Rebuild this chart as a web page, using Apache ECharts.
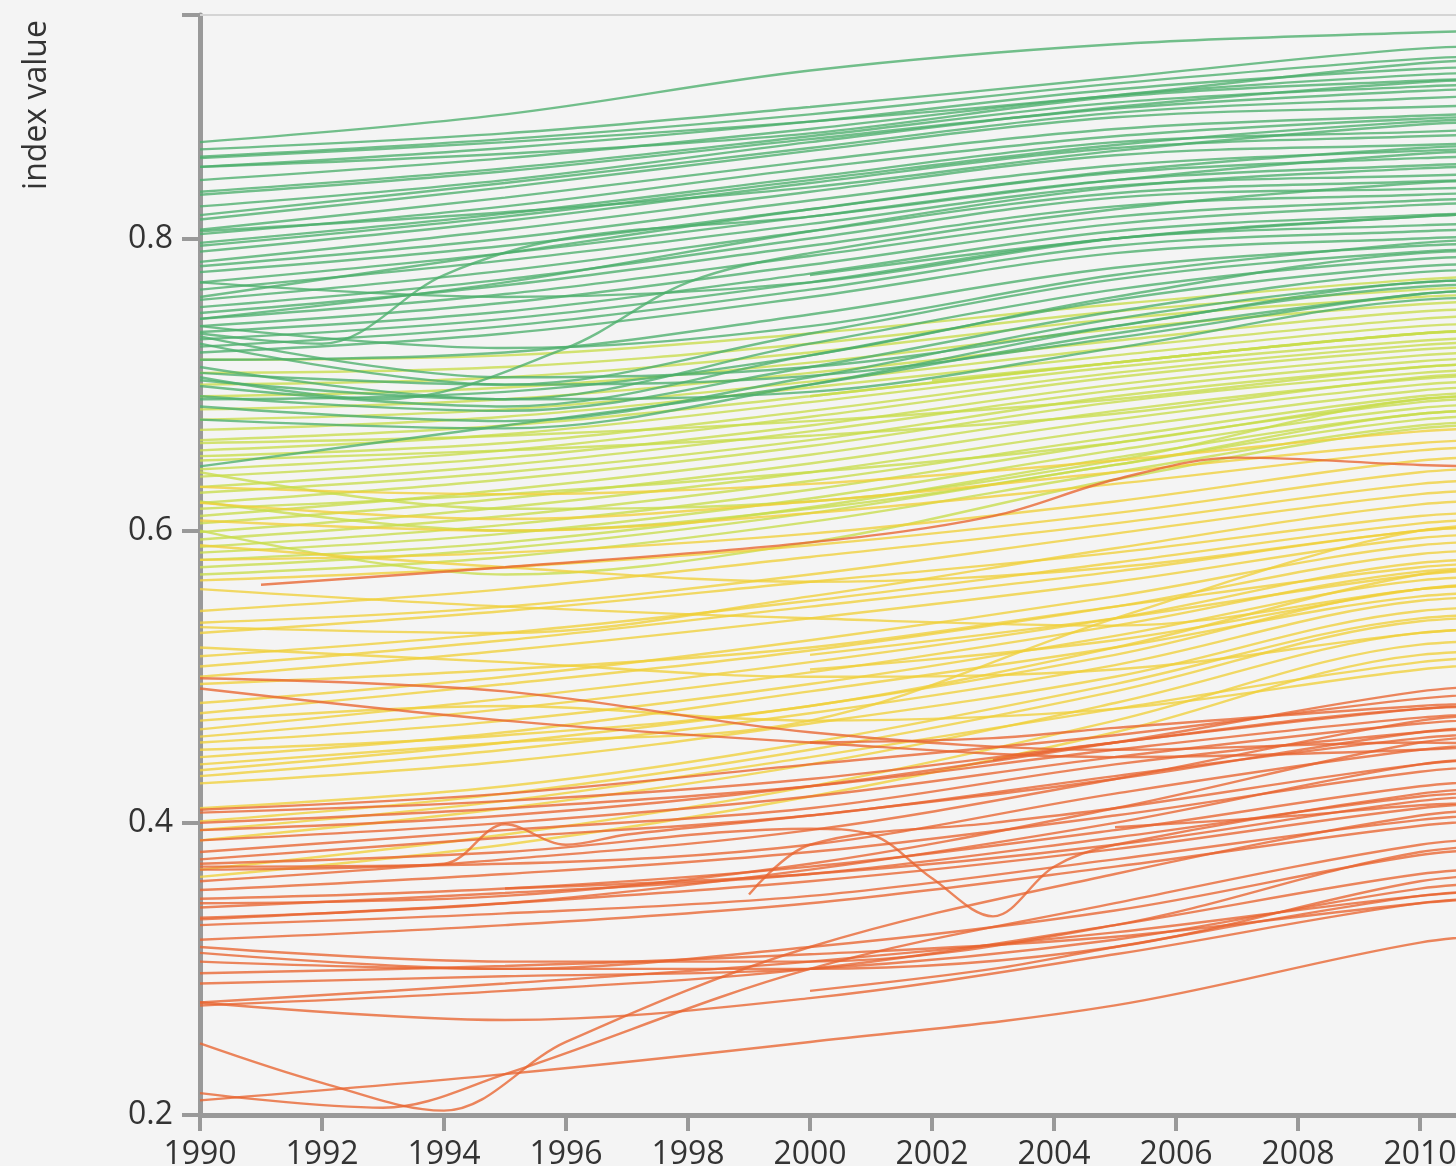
<!DOCTYPE html>
<html>
<head>
<meta charset="utf-8">
<script src="https://cdn.jsdelivr.net/npm/echarts@6/dist/echarts.min.js"></script>
<style>
html,body{margin:0;padding:0;background:#f4f4f4;}
#chart{width:1456px;height:1166px;}
</style>
</head>
<body>
<div id="chart"></div>
<script>
// Sample years for the regular series
var YEARS = [1990, 1995, 2000, 2005, 2010, 2012];

// Very high development (green)
var greenLines = [
  [0.866,0.885,0.915,0.933,0.941,0.943],
  [0.861,0.872,0.890,0.910,0.930,0.932],
  [0.856,0.868,0.885,0.906,0.923,0.925],
  [0.849,0.862,0.880,0.902,0.916,0.918],
  [0.849,0.858,0.872,0.897,0.908,0.910],
  [0.832,0.848,0.870,0.893,0.904,0.906],
  [0.830,0.846,0.868,0.889,0.901,0.903],
  [0.816,0.838,0.862,0.886,0.896,0.899],
  [0.813,0.835,0.860,0.883,0.890,0.892],
  [0.806,0.828,0.853,0.875,0.884,0.887],
  [0.803,0.822,0.848,0.870,0.882,0.884],
  [0.797,0.817,0.842,0.866,0.873,0.876],
  [0.791,0.812,0.838,0.862,0.870,0.872],
  [0.784,0.806,0.832,0.857,0.864,0.866],
  [0.781,0.800,0.826,0.850,0.860,0.862],
  [0.777,0.795,0.820,0.845,0.855,0.857],
  [0.770,0.790,0.815,0.840,0.850,0.852],
  [0.765,0.785,0.810,0.836,0.843,0.845],
  [0.758,0.778,0.805,0.831,0.839,0.841],
  [0.753,0.772,0.800,0.828,0.834,0.836],
  [0.749,0.768,0.795,0.822,0.830,0.832],
  [0.745,0.762,0.788,0.815,0.826,0.828],
  [0.740,0.756,0.782,0.810,0.823,0.825],
  [0.736,0.750,0.776,0.805,0.816,0.818],
  [0.731,0.745,0.770,0.800,0.809,0.811],
  [0.726,0.740,0.765,0.795,0.805,0.807],
  [0.722,0.735,0.760,0.790,0.800,0.802],
  [0.717,0.722,0.748,0.780,0.795,0.797],
  [0.708,0.700,0.735,0.772,0.791,0.793],
  [0.703,0.690,0.728,0.765,0.786,0.788],
  [0.699,0.685,0.720,0.758,0.781,0.783],
  [0.692,0.682,0.712,0.750,0.777,0.779],
  [0.685,0.675,0.705,0.745,0.770,0.772],
  [0.676,0.670,0.700,0.740,0.767,0.769],
  [0.840,0.855,0.875,0.898,0.912,0.914],
  [0.822,0.840,0.866,0.890,0.907,0.909],
  [0.795,0.815,0.840,0.864,0.880,0.882],
  [0.760,0.790,0.820,0.846,0.862,0.864],
  [0.745,0.770,0.805,0.835,0.848,0.850],
  [0.740,0.725,0.740,0.775,0.797,0.800],
  [0.733,0.705,0.712,0.740,0.770,0.772],
  [0.728,0.700,0.706,0.732,0.762,0.765],
  [0.712,0.690,0.695,0.725,0.758,0.760],
  [0.690,0.695,0.720,0.760,0.790,0.792],
  [0.644,0.672,0.700,0.735,0.762,0.765],
  [0.770,0.760,0.770,0.800,0.815,0.818],
  [0.805,0.818,0.835,0.860,0.878,0.880],
  [0.855,0.866,0.880,0.898,0.920,0.923]
];

// High development (yellow-green)
var yellowGreenLines = [
  [0.717,0.720,0.735,0.755,0.772,0.775],
  [0.708,0.712,0.728,0.750,0.765,0.768],
  [0.700,0.705,0.722,0.745,0.760,0.762],
  [0.692,0.698,0.715,0.738,0.755,0.758],
  [0.683,0.690,0.708,0.730,0.750,0.752],
  [0.676,0.683,0.702,0.725,0.745,0.748],
  [0.669,0.678,0.698,0.720,0.740,0.742],
  [0.662,0.672,0.692,0.715,0.735,0.738],
  [0.655,0.666,0.688,0.712,0.730,0.733],
  [0.651,0.660,0.682,0.708,0.727,0.730],
  [0.642,0.655,0.678,0.705,0.724,0.727],
  [0.637,0.650,0.672,0.700,0.720,0.723],
  [0.630,0.645,0.668,0.696,0.716,0.719],
  [0.626,0.640,0.662,0.692,0.712,0.715],
  [0.619,0.635,0.658,0.688,0.708,0.711],
  [0.610,0.628,0.652,0.682,0.704,0.707],
  [0.605,0.622,0.646,0.676,0.700,0.703],
  [0.599,0.616,0.640,0.670,0.696,0.699],
  [0.594,0.610,0.634,0.664,0.692,0.695],
  [0.589,0.604,0.628,0.660,0.688,0.691],
  [0.585,0.598,0.622,0.655,0.684,0.687],
  [0.580,0.592,0.616,0.650,0.680,0.683],
  [0.575,0.588,0.612,0.645,0.676,0.679],
  [0.570,0.582,0.606,0.640,0.672,0.675],
  [0.620,0.600,0.615,0.645,0.680,0.683],
  [0.640,0.615,0.620,0.648,0.690,0.693],
  [0.600,0.570,0.592,0.635,0.670,0.673],
  [0.660,0.665,0.675,0.690,0.712,0.715],
  [0.648,0.655,0.665,0.680,0.705,0.708],
  [0.615,0.625,0.640,0.660,0.690,0.693]
];

// Medium development (yellow)
var yellowLines = [
  [0.630,0.625,0.632,0.648,0.668,0.671],
  [0.619,0.608,0.620,0.640,0.660,0.663],
  [0.607,0.600,0.612,0.632,0.655,0.658],
  [0.580,0.585,0.598,0.620,0.648,0.651],
  [0.566,0.575,0.590,0.612,0.640,0.643],
  [0.545,0.560,0.582,0.605,0.632,0.635],
  [0.537,0.548,0.570,0.598,0.625,0.628],
  [0.534,0.530,0.555,0.588,0.618,0.621],
  [0.530,0.545,0.565,0.585,0.610,0.613],
  [0.514,0.530,0.552,0.578,0.605,0.608],
  [0.507,0.525,0.548,0.572,0.600,0.603],
  [0.500,0.518,0.540,0.565,0.595,0.598],
  [0.482,0.500,0.525,0.555,0.590,0.593],
  [0.475,0.495,0.518,0.548,0.584,0.587],
  [0.464,0.485,0.510,0.540,0.578,0.581],
  [0.459,0.478,0.503,0.535,0.572,0.575],
  [0.455,0.470,0.495,0.528,0.566,0.569],
  [0.436,0.455,0.480,0.515,0.560,0.563],
  [0.432,0.450,0.475,0.508,0.552,0.555],
  [0.427,0.442,0.468,0.500,0.545,0.548],
  [0.401,0.420,0.450,0.490,0.538,0.541],
  [0.388,0.410,0.440,0.482,0.530,0.533],
  [0.368,0.392,0.425,0.470,0.522,0.525],
  [0.363,0.385,0.418,0.462,0.515,0.518],
  [0.560,0.548,0.540,0.535,0.560,0.565],
  [0.520,0.510,0.500,0.505,0.530,0.535],
  [0.470,0.480,0.470,0.478,0.505,0.510],
  [0.440,0.455,0.470,0.540,0.600,0.605],
  [0.450,0.460,0.480,0.520,0.570,0.575],
  [0.590,0.575,0.565,0.575,0.600,0.604],
  [0.495,0.505,0.520,0.548,0.575,0.578],
  [0.445,0.462,0.490,0.520,0.555,0.558],
  [0.410,0.425,0.455,0.495,0.540,0.543],
  [0.395,0.415,0.445,0.478,0.510,0.514]
];

// Low development (orange)
var orangeLines = [
  [0.499,0.490,0.462,0.450,0.455,0.452],
  [0.492,0.470,0.455,0.445,0.450,0.455],
  [0.409,0.420,0.440,0.460,0.485,0.490],
  [0.407,0.415,0.430,0.455,0.478,0.482],
  [0.400,0.410,0.425,0.450,0.472,0.476],
  [0.388,0.400,0.418,0.445,0.468,0.472],
  [0.380,0.395,0.410,0.440,0.462,0.466],
  [0.375,0.390,0.405,0.432,0.458,0.462],
  [0.370,0.372,0.385,0.420,0.450,0.455],
  [0.354,0.365,0.380,0.405,0.435,0.440],
  [0.348,0.355,0.370,0.395,0.425,0.430],
  [0.342,0.352,0.365,0.390,0.418,0.422],
  [0.334,0.345,0.360,0.382,0.410,0.415],
  [0.330,0.338,0.350,0.375,0.402,0.407],
  [0.315,0.305,0.305,0.330,0.380,0.385],
  [0.311,0.300,0.300,0.315,0.360,0.365],
  [0.297,0.302,0.310,0.322,0.345,0.350],
  [0.277,0.290,0.305,0.325,0.350,0.355],
  [0.277,0.265,0.280,0.310,0.345,0.350],
  [0.210,0.228,0.250,0.275,0.318,0.325],
  [0.275,0.285,0.300,0.330,0.365,0.370],
  [0.395,0.405,0.425,0.455,0.490,0.495],
  [0.360,0.375,0.395,0.430,0.470,0.475],
  [0.345,0.350,0.372,0.410,0.455,0.460],
  [0.335,0.345,0.368,0.400,0.440,0.445],
  [0.320,0.330,0.345,0.370,0.398,0.403],
  [0.305,0.300,0.315,0.340,0.378,0.383],
  [0.290,0.295,0.300,0.320,0.355,0.360]
];

// Series with their own year points (partial spans or irregular shapes)
var partialLines = [
  {c:'O', p:[[1991,0.563],[1995,0.575],[2000,0.592],[2003,0.610],[2005,0.635],[2007,0.650],[2010,0.645],[2012,0.643]]},
  {c:'O', p:[[1990,0.368],[1994,0.372],[1995,0.399],[1996,0.385],[1997,0.392],[2000,0.405],[2005,0.430],[2010,0.462],[2012,0.467]]},
  {c:'O', p:[[1990,0.249],[1992,0.222],[1994,0.203],[1996,0.250],[2000,0.315],[2005,0.365],[2010,0.405],[2012,0.410]]},
  {c:'O', p:[[1990,0.215],[1993,0.205],[1995,0.228],[2000,0.300],[2005,0.345],[2010,0.385],[2012,0.390]]},
  {c:'O', p:[[1990,0.372],[1995,0.380],[2000,0.396],[2001,0.392],[2002,0.362],[2003,0.336],[2004,0.370],[2005,0.385],[2010,0.420],[2012,0.425]]},
  {c:'O', p:[[1999,0.351],[2000,0.385],[2003,0.400],[2005,0.410],[2010,0.440],[2012,0.445]]},
  {c:'O', p:[[2000,0.285],[2003,0.300],[2005,0.315],[2010,0.350],[2012,0.355]]},
  {c:'O', p:[[1995,0.355],[2000,0.365],[2005,0.385],[2010,0.415],[2012,0.420]]},
  {c:'O', p:[[2000,0.455],[2003,0.458],[2005,0.465],[2010,0.480],[2012,0.483]]},
  {c:'O', p:[[2003,0.443],[2005,0.455],[2010,0.478],[2012,0.480]]},
  {c:'O', p:[[2005,0.397],[2008,0.405],[2010,0.412],[2012,0.415]]},
  {c:'Y', p:[[2000,0.515],[2005,0.540],[2010,0.570],[2012,0.574]]},
  {c:'Y', p:[[2000,0.505],[2005,0.525],[2010,0.560],[2012,0.565]]},
  {c:'YG', p:[[2000,0.692],[2005,0.715],[2010,0.735],[2012,0.738]]},
  {c:'YG', p:[[2002,0.703],[2005,0.715],[2010,0.735],[2012,0.737]]},
  {c:'G', p:[[2000,0.775],[2005,0.800],[2010,0.815],[2012,0.818]]},
  {c:'G', p:[[1990,0.735],[1992,0.728],[1994,0.775],[1996,0.800],[2000,0.815],[2005,0.840],[2010,0.858],[2012,0.860]]},
  {c:'G', p:[[1990,0.705],[1993,0.690],[1996,0.725],[1998,0.770],[2000,0.790],[2005,0.820],[2010,0.838],[2012,0.840]]}
];

var colors = {G:'#4cae6c', YG:'#c8dc4a', Y:'#f0d03a', O:'#e8642f'};

function toPairs(vals) {
  var out = [];
  for (var i = 0; i < YEARS.length; i++) {
    if (vals[i] != null) out.push([YEARS[i], vals[i]]);
  }
  return out;
}

var series = [];
function addSeries(cat, data) {
  series.push({
    type: 'line',
    data: data,
    smooth: 0.35,
    symbol: 'none',
    silent: true,
    clip: true,
    lineStyle: {color: colors[cat], width: 2.4, opacity: 0.78}
  });
}
yellowGreenLines.forEach(function(v){ addSeries('YG', toPairs(v)); });
greenLines.forEach(function(v){ addSeries('G', toPairs(v)); });
yellowLines.forEach(function(v){ addSeries('Y', toPairs(v)); });
orangeLines.forEach(function(v){ addSeries('O', toPairs(v)); });
partialLines.forEach(function(s){ addSeries(s.c, s.p); });

var chart = echarts.init(document.getElementById('chart'), null, {renderer: 'canvas'});
var font = 'Open Sans';
chart.setOption({
  backgroundColor: '#f4f4f4',
  animation: false,
  grid: {left: 200, top: 15, width: 1342, height: 1100, containLabel: false, outerBoundsMode: 'none'},
  xAxis: [{
    type: 'value', min: 1990, max: 2012, interval: 2,
    axisLine: {show: true, lineStyle: {color: '#999', width: 5}},
    axisTick: {show: true, length: 16, lineStyle: {color: '#999', width: 4}},
    axisLabel: {fontSize: 32, color: '#333', margin: 24, fontFamily: font,
      formatter: function(v){ return String(v); }},
    splitLine: {show: false}
  }, {
    type: 'value', min: 1990, max: 2012, position: 'top',
    axisLine: {show: true, lineStyle: {color: '#d4d4d4', width: 2}},
    axisTick: {show: false}, axisLabel: {show: false}, splitLine: {show: false}
  }],
  yAxis: {
    type: 'value', min: 0.2, max: 0.953, interval: 0.2,
    axisLine: {show: true, lineStyle: {color: '#999', width: 5}},
    axisTick: {show: true, length: 18, lineStyle: {color: '#999', width: 4}},
    axisLabel: {fontSize: 32, color: '#333', margin: 27, fontFamily: font,
      formatter: function(v){
        var k = v / 0.2;
        return Math.abs(k - Math.round(k)) < 1e-6 ? v.toFixed(1) : '';
      }},
    splitLine: {show: false}
  },
  graphic: [{
    type: 'text', x: 37, y: 105, rotation: Math.PI / 2,
    style: {text: 'index value', fontSize: 32, fontFamily: font, fill: '#333',
      align: 'center', verticalAlign: 'middle'}
  }],
  series: series
});
</script>
</body>
</html>
